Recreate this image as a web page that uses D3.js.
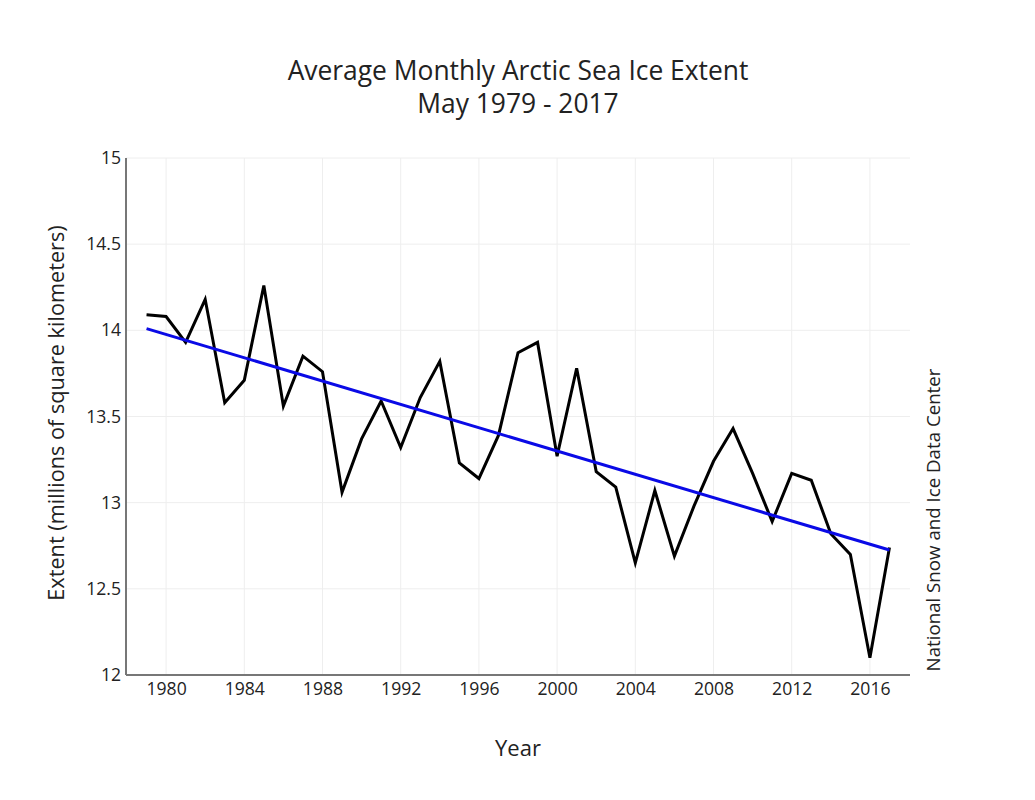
<!DOCTYPE html>
<html>
<head>
<meta charset="utf-8">
<script src="https://cdn.jsdelivr.net/npm/d3@7/dist/d3.min.js"></script>
<style>
  html, body { margin: 0; padding: 0; background: #fff; }
  svg text { font-family: "Open Sans", sans-serif; fill: #222; }
</style>
</head>
<body>
<svg id="chart" width="1035" height="800"></svg>
<script>
const years = d3.range(1979, 2018);
const extent = [
  14.09, 14.08, 13.93, 14.18, 13.58, 13.71, 14.26, 13.56, 13.85, 13.76,
  13.06, 13.37, 13.59, 13.32, 13.61, 13.82, 13.23, 13.14, 13.39, 13.87,
  13.93, 13.27, 13.78, 13.18, 13.09, 12.65, 13.07, 12.69, 12.98, 13.24,
  13.43, 13.17, 12.89, 13.17, 13.13, 12.82, 12.70, 12.10, 12.74
];
const trendYears = [1979, 2017];
const trendValues = [14.01, 12.725];
const xTicks = [1980, 1984, 1988, 1992, 1996, 2000, 2004, 2008, 2012, 2016];
const yTicks = [12, 12.5, 13, 13.5, 14, 14.5, 15];
const titleLines = ["Average Monthly Arctic Sea Ice Extent", "May 1979 - 2017"];

const svg = d3.select("#chart");
const L = 126, R = 910, T = 158, B = 675;
const x = d3.scaleLinear().domain([1977.95, 2018.05]).range([L, R]);
const y = d3.scaleLinear().domain([12, 15]).range([B, T]);

// grid
const grid = svg.append("g");
grid.selectAll("line.v").data(xTicks).join("line")
  .attr("x1", d => x(d)).attr("x2", d => x(d))
  .attr("y1", T).attr("y2", B)
  .attr("stroke", "#eeeeee").attr("stroke-width", 1);
grid.selectAll("line.h").data(yTicks.filter(d => d > 12)).join("line")
  .attr("x1", L).attr("x2", R)
  .attr("y1", d => y(d)).attr("y2", d => y(d))
  .attr("stroke", "#eeeeee").attr("stroke-width", 1);

// axes
const xAxis = d3.axisBottom(x).tickValues(xTicks).tickFormat(d3.format("d")).tickSize(0).tickPadding(8);
const gx = svg.append("g").attr("transform", `translate(0,${B})`).call(xAxis);
gx.select(".domain").attr("stroke", "#777").attr("stroke-width", 2).attr("d", `M${L},0H${R}`);
gx.selectAll("text").attr("font-size", 17.6).attr("font-family", "Open Sans").attr("fill", "#222");

const yAxis = d3.axisLeft(y).tickValues(yTicks).tickFormat(d => d3.format("")(d)).tickSize(0).tickPadding(5);
const gy = svg.append("g").attr("transform", `translate(${L},0)`).call(yAxis);
gy.select(".domain").attr("stroke", "#777").attr("stroke-width", 2).attr("d", `M0,${T}V${B}`);
gy.selectAll("text").attr("font-size", 17.6).attr("font-family", "Open Sans").attr("fill", "#222");

// data line
const pts = years.map((yr, i) => [yr, extent[i]]);
svg.append("path").datum(pts)
  .attr("fill", "none").attr("stroke", "#000").attr("stroke-width", 3)
  .attr("stroke-linejoin", "miter")
  .attr("d", d3.line().x(d => x(d[0])).y(d => y(d[1])));

// trend line
const tpts = trendYears.map((yr, i) => [yr, trendValues[i]]);
svg.append("path").datum(tpts)
  .attr("fill", "none").attr("stroke", "#0a0ae6").attr("stroke-width", 3)
  .attr("d", d3.line().x(d => x(d[0])).y(d => y(d[1])));

// titles
svg.append("text").attr("x", 518).attr("y", 80).attr("text-anchor", "middle")
  .attr("font-size", 26.4).text(titleLines[0]);
svg.append("text").attr("x", 518).attr("y", 113).attr("text-anchor", "middle")
  .attr("font-size", 26.4).text(titleLines[1]);

svg.append("text").attr("x", 518).attr("y", 756).attr("text-anchor", "middle")
  .attr("font-size", 22).text("Year");

svg.append("text").attr("transform", `translate(64,413) rotate(-90)`).attr("text-anchor", "middle")
  .attr("font-size", 21.7).text("Extent (millions of square kilometers)");

svg.append("text").attr("transform", `translate(940,520) rotate(-90)`).attr("text-anchor", "middle")
  .attr("font-size", 18.7).text("National Snow and Ice Data Center");
</script>
</body>
</html>
